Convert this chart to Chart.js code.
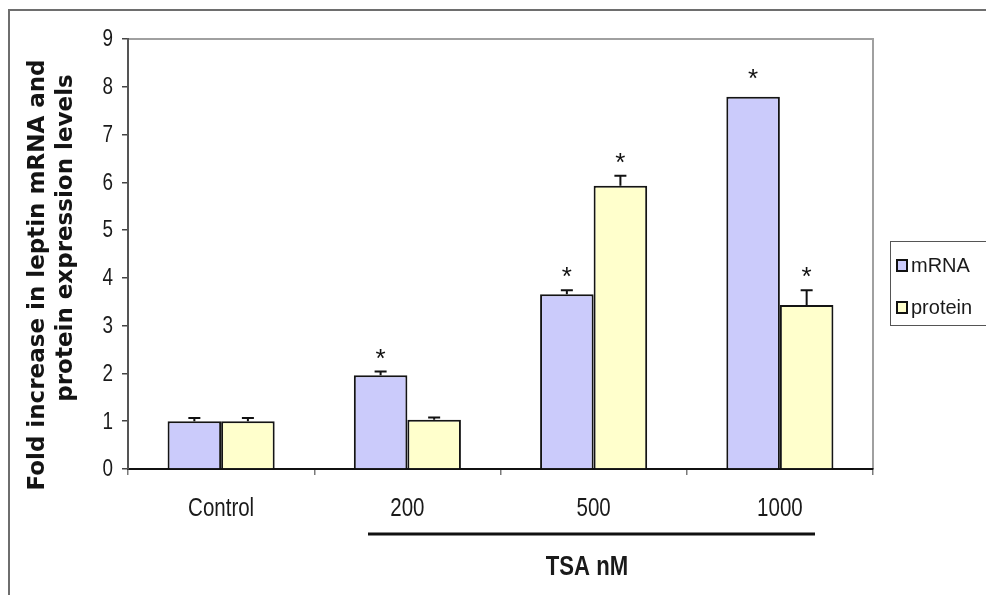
<!DOCTYPE html>
<html>
<head>
<meta charset="utf-8">
<script src="https://cdn.jsdelivr.net/npm/chart.js@4/dist/chart.umd.min.js"></script>
<style>
    html, body { margin: 0; padding: 0; background: #ffffff; }
    #wrap { width: 986px; height: 595px; }
</style>
</head>
<body>
<div id="wrap"><canvas id="leptinChart" width="986" height="595"></canvas></div>
<script>
// ===============================
// Leptin fold increase after TSA
// ===============================

// ---------- Data ----------

const doseLabels = ["Control", "200", "500", "1000"];
const mrnaValues = [1.0, 1.96, 3.66, 7.79];
const mrnaErrors = [0.07, 0.08, 0.08, 0];
const proteinValues = [1.0, 1.03, 5.93, 3.43];
const proteinErrors = [0.07, 0.05, 0.21, 0.31];
const mrnaStars = [false, true, true, true];
const proteinStars = [false, false, true, true];
const yMin = 0;
const yMax = 9;
const yStep = 1;

const yTitleLines = ["Fold increase in leptin mRNA and", "protein expression levels"];
const xGroupTitle = "TSA nM";

const SANS = "'Liberation Sans', Arial, sans-serif";
const SQUEEZE = 0.82;   // the original text is tall and narrow

// draw text squeezed horizontally
function narrowText(c, text, x, y, font, align, squeeze) {
    c.save();
    c.font = font;
    c.textAlign = align;
    c.translate(x, y);
    c.scale(squeeze || SQUEEZE, 1);
    c.fillText(text, 0, 0);
    c.restore();
}

// ---------- Plugins ----------

const framePlugin = {
    id: "frame",
    beforeDraw(chart) {
        const c = chart.ctx;
        const a = chart.chartArea;
        c.save();
        c.fillStyle = "#ffffff";
        c.fillRect(0, 0, chart.width, chart.height);

        // outer picture frame
        c.strokeStyle = "#6e6e6e";
        c.lineWidth = 2;
        c.beginPath();
        c.moveTo(9, chart.height);
        c.lineTo(9, 10);
        c.lineTo(chart.width, 10);
        c.stroke();

        // plot area top / right border
        c.strokeStyle = "#a0a0a0";
        c.lineWidth = 2;
        c.beginPath();
        c.moveTo(a.left, a.top);
        c.lineTo(a.right, a.top);
        c.lineTo(a.right, a.bottom);
        c.stroke();
        c.restore();
    }
};

const errorPlugin = {
    id: "errorBars",
    afterDatasetsDraw(chart) {
        const c = chart.ctx;
        const yScale = chart.scales.y;
        const errs = [mrnaErrors, proteinErrors];
        const stars = [mrnaStars, proteinStars];

        c.save();
        chart.data.datasets.forEach((ds, di) => {
            const meta = chart.getDatasetMeta(di);
            meta.data.forEach((bar, i) => {
                const val = ds.data[i];
                const top = yScale.getPixelForValue(val + errs[di][i]);

                if (errs[di][i] > 0) {
                    c.strokeStyle = "#111111";
                    c.lineWidth = 2;
                    c.beginPath();
                    c.moveTo(bar.x, bar.y);
                    c.lineTo(bar.x, top);
                    c.moveTo(bar.x - 6, top);
                    c.lineTo(bar.x + 6, top);
                    c.stroke();
                }

                if (stars[di][i]) {
                    c.fillStyle = "#111111";
                    c.font = "26px " + SANS;
                    c.textAlign = "center";
                    c.textBaseline = "alphabetic";
                    const gap = errs[di][i] > 0 ? 20 : 25;
                    c.fillText("*", bar.x, top - gap + 15);
                }
            });
        });
        c.restore();
    }
};

const annotationPlugin = {
    id: "annotations",
    afterDraw(chart) {
        const c = chart.ctx;
        const xs = chart.scales.x;
        const ys = chart.scales.y;
        c.save();

        // tick labels, taken from the scales
        c.fillStyle = "#1a1a1a";
        c.textBaseline = "middle";
        ys.ticks.forEach((t, i) => {
            narrowText(c, t.label, 113, ys.getPixelForTick(i) + 1, "23px " + SANS, "right");
        });
        xs.ticks.forEach((t, i) => {
            narrowText(c, xs.getLabelForValue(t.value), xs.getPixelForTick(i), 509, "25px " + SANS, "center");
        });

        // rotated y-axis title (two lines)
        c.fillStyle = "#141414";
        c.font = "bold 23px 'DejaVu Sans', sans-serif";
        c.textAlign = "center";
        c.textBaseline = "middle";
        const titlePos = [[38, 275], [66, 238]];
        yTitleLines.forEach((line, i) => {
            c.save();
            c.translate(titlePos[i][0], titlePos[i][1]);
            c.rotate(-Math.PI / 2);
            c.fillText(line, 0, 0);
            c.restore();
        });

        // bracket line under the TSA doses
        c.strokeStyle = "#111111";
        c.lineWidth = 3;
        c.beginPath();
        c.moveTo(368, 534);
        c.lineTo(815, 534);
        c.stroke();

        c.fillStyle = "#1a1a1a";
        c.textBaseline = "middle";
        narrowText(c, xGroupTitle, 587, 568, "bold 27px " + SANS, "center");

        // legend
        c.strokeStyle = "#555555";
        c.lineWidth = 1;
        c.strokeRect(890.5, 241.5, 120, 84);
        const rows = [265, 307];
        chart.data.datasets.forEach((ds, i) => {
            c.fillStyle = ds.backgroundColor;
            c.fillRect(897, rows[i] - 5, 10, 11);
            c.strokeStyle = "#111111";
            c.lineWidth = 2;
            c.strokeRect(897, rows[i] - 5, 10, 11);
            c.fillStyle = "#1a1a1a";
            c.textBaseline = "middle";
            narrowText(c, ds.label, 911, rows[i] + 1, "20px " + SANS, "left", 1);
        });

        c.restore();
    }
};

// ---------- Chart ----------

const ctx = document.getElementById("leptinChart");

new Chart(ctx, {
    type: "bar",
    data: {
        labels: doseLabels,
        datasets: [{
            label: "mRNA",
            data: mrnaValues,
            backgroundColor: "#cbcbfb",
            borderColor: "#141414",
            borderWidth: 2,
            categoryPercentage: 0.575,
            barPercentage: 1.0
        }, {
            label: "protein",
            data: proteinValues,
            backgroundColor: "#ffffcc",
            borderColor: "#141414",
            borderWidth: 2,
            categoryPercentage: 0.575,
            barPercentage: 1.0
        }]
    },
    options: {
        responsive: false,
        animation: false,
        layout: {
            padding: { left: 0, top: 39, right: 113, bottom: 0 }
        },
        plugins: {
            legend: { display: false },
            tooltip: { enabled: false }
        },
        scales: {
            x: {
                grid: {
                    offset: true,
                    drawOnChartArea: false,
                    drawTicks: true,
                    tickLength: 6,
                    color: "#7a7a7a",
                    lineWidth: 1.5
                },
                border: { color: "#111111", width: 2 },
                ticks: { display: false },
                afterFit(scale) {
                    scale.height = 126;
                }
            },
            y: {
                min: yMin,
                max: yMax,
                grid: {
                    drawOnChartArea: false,
                    drawTicks: true,
                    tickLength: 6,
                    color: "#444444",
                    lineWidth: 1.5
                },
                border: { color: "#555555", width: 2 },
                ticks: { display: false, stepSize: yStep },
                afterFit(scale) {
                    scale.width = 128;
                }
            }
        }
    },
    plugins: [framePlugin, errorPlugin, annotationPlugin]
});
</script>
</body>
</html>
